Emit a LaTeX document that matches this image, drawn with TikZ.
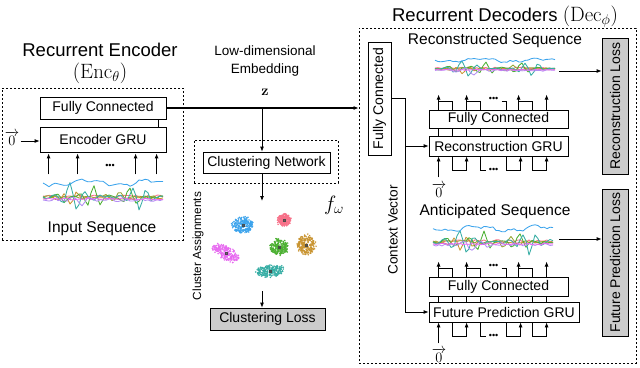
\documentclass[tikz,border=0pt]{standalone}
\usepackage{amsmath,amssymb}
\usepackage[no-math]{fontspec}
\setmainfont{Liberation Sans}
\usetikzlibrary{arrows.meta}

\definecolor{hred}{HTML}{F77189}
\definecolor{hgold}{HTML}{C8932F}
\definecolor{holive}{HTML}{97A431}
\definecolor{hgreen}{HTML}{4CB032}
\definecolor{hteal}{HTML}{36ADA4}
\definecolor{hblue}{HTML}{3BA3EC}
\definecolor{hviolet}{HTML}{B48CF4}
\definecolor{hmag}{HTML}{E76AF0}

% math sizes that the cm fonts have
\newcommand{\bigmath}[1]{{\fontsize{20.74}{24}\selectfont$#1$}}
\newcommand{\midmath}[1]{{\fontsize{14.4}{17}\selectfont$#1$}}

% noisy multi-channel sequence, #1 = origin, #2 = vertical scale
\newcommand{\seqplot}[2]{%
  \begin{scope}[shift={#1}, yscale=#2, line width=0.85pt, line join=round]
    \draw[hred] (0,20) \foreach \x in {3,6,...,120}{ -- (\x,{20+1.5*rand}) };
    \draw[holive] (0,21) \foreach \x in {3,6,...,120}{ -- (\x,{21+1.5*rand+6*sin(22*\x)/(1+((\x-75)/8)*((\x-75)/8))}) };
    \draw[hgold] (0,22) \foreach \x in {3,6,...,120}{ -- (\x,{22+1.5*rand+7*sin(28*\x+40)/(1+((\x-28)/8)*((\x-28)/8))}) };
    \draw[hgreen] (0,21) \foreach \x in {3,6,...,120}{ -- (\x,{21+1.5*rand+7*sin(20*\x)/(1+((\x-20)/7)*((\x-20)/7))+11*sin(26*\x+30)/(1+((\x-50)/10)*((\x-50)/10))+10*sin(24*\x)/(1+((\x-86)/9)*((\x-86)/9))}) };
    \draw[hteal] (0,21) \foreach \x in {3,6,...,120}{ -- (\x,{21+1.5*rand+15*sin(23*\x+20)/(1+((\x-30)/9)*((\x-30)/9))+13*sin(27*\x)/(1+((\x-96)/8)*((\x-96)/8))}) };
    \draw[hviolet] (0,24) \foreach \x in {3,6,...,120}{ -- (\x,{24+1.5*rand+7*sin(21*\x)/(1+((\x-38)/8)*((\x-38)/8))}) };
    \draw[hmag] (0,23) \foreach \x in {3,6,...,120}{ -- (\x,{23+rand}) };
    \draw[hblue] (0,7) \foreach \x in {3,6,...,120}{ -- (\x,{7+2.5*sin(6*\x)+1.5*sin(17*\x+30)+1.2*rand}) };
  \end{scope}}

% one cluster of points: colour, cx, cy, sx, sy, angle
\newcommand{\blob}[6]{%
  \foreach \i in {1,...,230}{%
    \pgfmathsetmacro\pr{sqrt(rnd)}
    \pgfmathsetmacro\pt{360*rnd}
    \pgfmathsetmacro\pu{#4*\pr*cos(\pt)+1.2*rand}
    \pgfmathsetmacro\pv{#5*\pr*sin(\pt)+1.2*rand}
    \fill[#1] (#2,#3) ++({\pu*cos(#6)-\pv*sin(#6)},{\pu*sin(#6)+\pv*cos(#6)}) circle (0.85pt);}
  \filldraw[draw=black!70, fill=#1!60!black, line width=0.4pt] ({#2-1.2},{#3-1.2}) rectangle ++(2.4,2.4);}

% wiring between a decoder FC layer (#1) and its GRU (#2)
\newcommand{\decwires}[2]{%
  \foreach \dx in {10,24,38,52,78,90,104,118}
    \draw ([xshift=\dx pt]#2.north west) -- ([xshift=\dx pt]#1.south west);
  \foreach \dx in {10,38,90,118}
    \draw[arr] ([xshift=\dx pt]#1.north west) -- ++(0,-15);
  \foreach \dx in {10,38,90}
    \draw ([xshift=\dx pt]#1.north west) ++(0,-8) -| ([xshift=\dx pt+14pt]#1.north west);
  \draw ([xshift=73pt]#1.north west) ++(0,-8) -| ([xshift=78pt]#1.north west);
  \node[dots] at ([xshift=65pt, yshift=10pt]#1.north west) {\textbullet\textbullet\textbullet};
  \foreach \dx in {24,78,104}
    \draw[arr] ([xshift=\dx pt]#2.south west) -- ++(0,14) -| ([xshift=\dx pt+14pt]#2.south west);
  \draw ([xshift=52pt]#2.south west) -- ++(0,14) -- ++(5,0);
  \node[dots] at ([xshift=65pt, yshift=-14pt]#2.south west) {\textbullet\textbullet\textbullet};
  \draw[arr] ([xshift=10pt, yshift=-21pt]#2.south west) -- ([xshift=10pt]#2.south west);}

\begin{document}
\begin{tikzpicture}[x=1pt, y=-1pt, line width=0.8pt,
    box/.style={draw, inner sep=0pt, font=\fontsize{14}{16}\selectfont},
    lossbox/.style={box, fill=black!20},
    dashbox/.style={draw, line width=0.7pt, dash pattern=on 2pt off 2pt},
    arr/.style={-{Latex[length=5pt,width=4pt]}},
    title/.style={font=\fontsize{18.5}{21}\selectfont},
    label/.style={font=\fontsize{15.5}{18}\selectfont},
    zero/.style={inner sep=0pt},
    dots/.style={inner sep=0pt, font=\fontsize{9}{10}\selectfont}]
  \useasboundingbox (0,0) rectangle (640,367);

  % encoder
  \node[title] (enctitle) at (100,50) {Recurrent Encoder};
  \node[title] (encsub) at (100,73) {\bigmath{(\mathrm{Enc}_\theta)}};
  \node[dashbox, minimum width=181pt, minimum height=152pt] (encbox) at (92.5,164) {};
  \node[box, minimum width=126pt, minimum height=22pt] (encfc) at (103,108) {Fully Connected};
  \node[box, minimum width=126pt, minimum height=25pt] (encgru) at (103,139.5) {Encoder GRU};
  \draw ([xshift=-8pt]encgru.north east) -- ([xshift=-8pt]encfc.south east);
  \node[zero] (zeroenc) at (12,138) {\midmath{\overrightarrow{0}}};
  \draw[arr] ([xshift=1pt, yshift=-3pt]zeroenc.east) -- ([yshift=-3pt]zeroenc.east -| encgru.west);
  \foreach \dx in {9,38,96,117}
    \draw[arr, line width=0.9pt] ([xshift=\dx pt, yshift=-22pt]encgru.south west) -- ([xshift=\dx pt, yshift=-1pt]encgru.south west);
  \node[dots] (encdots) at (110,166) {\textbullet\textbullet\textbullet};
  \seqplot{(43,176)}{1}
  \node[label] (inseq) at (102,229) {Input Sequence};

  % embedding
  \node[align=center, font=\fontsize{13.5}{18}\selectfont] (embtext) at (265,61) {Low-dimensional\\Embedding};
  \node (zvec) at (265,92) {\midmath{\mathbf{z}}};
  \node[dashbox, minimum width=277pt, minimum height=335pt] (decbox) at (497.5,195.5) {};
  \draw[arr, line width=1.3pt] (encfc.east) -- (encfc.east -| decbox.west);

  % clustering
  \coordinate (zsplit) at (262,108);
  \node[dashbox, minimum width=144pt, minimum height=43pt] (cldash) at (266,161.5) {};
  \node[box, minimum width=127pt, minimum height=21pt] (clnet) at (266.5,162.5) {Clustering Network};
  \draw[arr] (zsplit) -- (zsplit |- clnet.north);
  \coordinate (clout) at (262,201);
  \draw[arr] (zsplit |- clnet.south) -- (clout);
  \node (fomega) at (334,205) {{\fontsize{20.74}{24}\selectfont$f_\omega$}};
  \node[rotate=90, font=\fontsize{11.8}{14}\selectfont] (classign) at (198,246) {Cluster Assignments};
  \pgfmathsetseed{7}
  \blob{hblue}{243}{225}{11}{8}{-8}
  \blob{hred}{284}{220}{6.5}{6}{0}
  \blob{hmag}{226}{253}{15}{6}{30}
  \blob{hgreen}{279}{247}{9}{8}{0}
  \blob{hgold}{306}{245}{9}{10}{0}
  \blob{hteal}{270}{271}{14}{5.5}{-6}
  \node[lossbox, minimum width=115pt, minimum height=22pt] (closs) at (267.5,319) {Clustering Loss};
  \coordinate (clin) at (262,291);
  \draw[arr] (clin) -- (clin |- closs.north);

  % decoders
  \node[title] (dectitle) at (505,17) {Recurrent Decoders \bigmath{(\mathrm{Dec}_\phi)}};
  \node[box, rotate=90, minimum width=113pt, minimum height=23pt] (vfc) at (379.5,98.5) {Fully Connected};
  \node[rotate=90, font=\fontsize{13.6}{16}\selectfont] (ctxtext) at (393,230) {Context Vector};

  \node[label] (recseq) at (495,40) {Reconstructed Sequence};
  \seqplot{(435,56)}{0.6}
  \node[box, minimum width=139pt, minimum height=18pt] (rfc) at (498.5,119) {Fully Connected};
  \node[box, minimum width=139pt, minimum height=20pt] (rgru) at (498.5,146) {Reconstruction GRU};
  \decwires{rfc}{rgru}
  \node[zero] (zerorec) at (439,190) {\midmath{\overrightarrow{0}}};
  \node[lossbox, rotate=90, minimum width=136pt, minimum height=26pt] (rloss) at (615,106) {Reconstruction Loss};
  \coordinate (rseq) at (559,71);
  \draw[arr] (rseq) -- (rseq -| rloss.north);

  \node[label] (antseq) at (495,211) {Anticipated Sequence};
  \seqplot{(433,222)}{0.95}
  \node[box, minimum width=139pt, minimum height=19pt] (ffc) at (498.5,286.5) {Fully Connected};
  \node[box, minimum width=150pt, minimum height=20pt] (fpgru) at (504,312) {Future Prediction GRU};
  \decwires{ffc}{fpgru}
  \node[zero] (zerofut) at (439,355) {\midmath{\overrightarrow{0}}};
  \node[lossbox, rotate=90, minimum width=147pt, minimum height=26pt] (floss) at (615,262.5) {Future Prediction Loss};
  \coordinate (aseq) at (559,239);
  \draw[arr] (aseq) -- (aseq -| floss.north);

  % context vector
  \draw[arr] (vfc.south) -- ++(14,0) |- (fpgru.west);
  \draw[arr] ([xshift=14pt]vfc.south) |- (rgru.west);
\end{tikzpicture}
\end{document}
